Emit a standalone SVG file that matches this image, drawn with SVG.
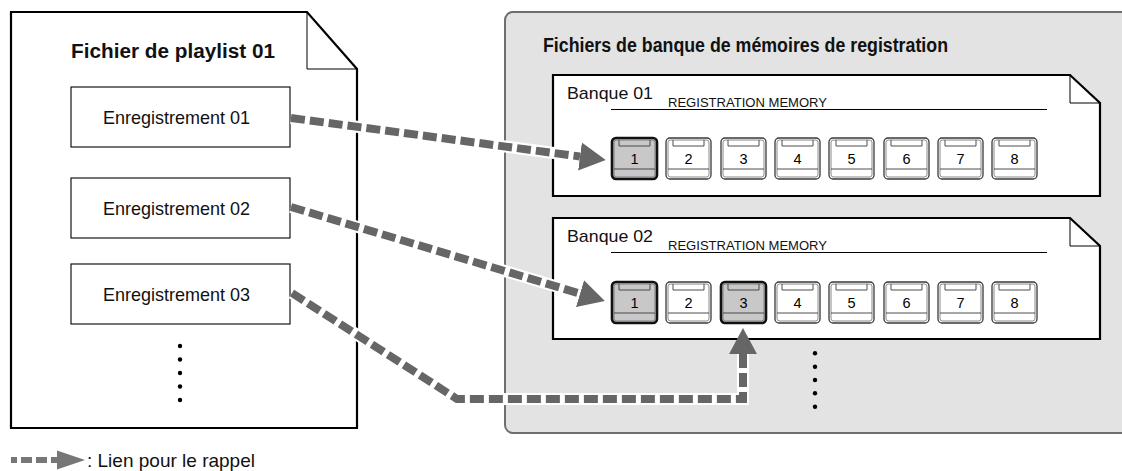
<svg xmlns="http://www.w3.org/2000/svg" width="1122" height="471" viewBox="0 0 1122 471">
<style>
text{font-family:"Liberation Sans",Arial,sans-serif;fill:#111}
.title{font-size:20px;font-weight:bold}
.rec{font-size:19px}
.bank{font-size:17px}
.reg{font-size:13.5px}
.num{font-size:14.5px;text-anchor:middle;fill:#000}
.leg{font-size:19px}
.doc{fill:#fff;stroke:#000;stroke-width:2.2;stroke-linejoin:miter}
.fold{fill:none;stroke:#000;stroke-width:1}
.box{fill:#fff;stroke:#000;stroke-width:1.1}
.bo{fill:#fff;stroke:#3a3a3a;stroke-width:1.3}
.bi{fill:none;stroke:#6a6a6a;stroke-width:0.8}
.bl{fill:none;stroke:#3a3a3a;stroke-width:0.9}
.sel .bo{fill:#c8c8c8;stroke:#111;stroke-width:2.6}
.dot{fill:#000}
.halo{fill:none;stroke:#fff;stroke-width:12;stroke-linejoin:miter}
.dash{fill:none;stroke:#666;stroke-width:8;stroke-dasharray:14 5;stroke-linejoin:miter}
</style>
<defs>
<marker id="ah" markerUnits="userSpaceOnUse" markerWidth="30" markerHeight="30" viewBox="0 -15 30 30" refX="0" refY="0" orient="auto">
<path d="M0,-14 L26,0 L0,14 Z" fill="#666"/>
</marker>
</defs>

<g id="panel">
<rect x="505" y="12" width="630" height="421" rx="8" fill="#e3e3e3" stroke="#6e6e6e" stroke-width="2"/>
<text class="title" x="543" y="52" textLength="405" lengthAdjust="spacingAndGlyphs">Fichiers de banque de mémoires de registration</text>
</g>

<g id="playlist">
<path class="doc" d="M11,12 H307 L357,69 V428 H11 Z"/>
<path class="fold" d="M307,12 V69 H357"/>
<text class="title" x="71" y="58" textLength="204" lengthAdjust="spacingAndGlyphs">Fichier de playlist 01</text>
<g class="dot">
<circle cx="180" cy="346" r="2.2"/><circle cx="180" cy="359.5" r="2.2"/><circle cx="180" cy="373" r="2.2"/><circle cx="180" cy="386.5" r="2.2"/><circle cx="180" cy="400" r="2.2"/>
</g>
</g>

<g id="rec01">
<rect class="box" x="71" y="87" width="219" height="60"/>
<text class="rec" x="103" y="123.5" textLength="147" lengthAdjust="spacingAndGlyphs">Enregistrement 01</text>
</g>
<g id="rec02">
<rect class="box" x="71" y="178" width="219" height="60"/>
<text class="rec" x="103" y="214.5" textLength="147" lengthAdjust="spacingAndGlyphs">Enregistrement 02</text>
</g>
<g id="rec03">
<rect class="box" x="71" y="264" width="219" height="60"/>
<text class="rec" x="103" y="300.5" textLength="147" lengthAdjust="spacingAndGlyphs">Enregistrement 03</text>
</g>

<g id="bank01">
<path class="doc" d="M553,75 H1070 L1100,103 V196 H553 Z"/>
<path class="fold" d="M1070,75 V103 H1100"/>
<text class="bank" x="567" y="99" textLength="86" lengthAdjust="spacingAndGlyphs">Banque 01</text>
<text class="reg" x="668" y="106.5" textLength="159" lengthAdjust="spacingAndGlyphs">REGISTRATION MEMORY</text>
<line x1="611" y1="109.5" x2="1047" y2="109.5" stroke="#000" stroke-width="1.2"/>
<g class="btn sel" transform="translate(612,138)"><rect class="bo" width="45" height="41" rx="4"/><rect class="bi" x="2" y="2" width="41" height="37" rx="2.5"/><path class="bl" d="M7,2 V8 H38 V2 M2,31 H43"/><text class="num" x="22.5" y="26">1</text></g>
<g class="btn" transform="translate(666,138)"><rect class="bo" width="45" height="41" rx="4"/><rect class="bi" x="2" y="2" width="41" height="37" rx="2.5"/><path class="bl" d="M7,2 V8 H38 V2 M2,31 H43"/><text class="num" x="22.5" y="26">2</text></g>
<g class="btn" transform="translate(721,138)"><rect class="bo" width="45" height="41" rx="4"/><rect class="bi" x="2" y="2" width="41" height="37" rx="2.5"/><path class="bl" d="M7,2 V8 H38 V2 M2,31 H43"/><text class="num" x="22.5" y="26">3</text></g>
<g class="btn" transform="translate(775,138)"><rect class="bo" width="45" height="41" rx="4"/><rect class="bi" x="2" y="2" width="41" height="37" rx="2.5"/><path class="bl" d="M7,2 V8 H38 V2 M2,31 H43"/><text class="num" x="22.5" y="26">4</text></g>
<g class="btn" transform="translate(829,138)"><rect class="bo" width="45" height="41" rx="4"/><rect class="bi" x="2" y="2" width="41" height="37" rx="2.5"/><path class="bl" d="M7,2 V8 H38 V2 M2,31 H43"/><text class="num" x="22.5" y="26">5</text></g>
<g class="btn" transform="translate(884,138)"><rect class="bo" width="45" height="41" rx="4"/><rect class="bi" x="2" y="2" width="41" height="37" rx="2.5"/><path class="bl" d="M7,2 V8 H38 V2 M2,31 H43"/><text class="num" x="22.5" y="26">6</text></g>
<g class="btn" transform="translate(938,138)"><rect class="bo" width="45" height="41" rx="4"/><rect class="bi" x="2" y="2" width="41" height="37" rx="2.5"/><path class="bl" d="M7,2 V8 H38 V2 M2,31 H43"/><text class="num" x="22.5" y="26">7</text></g>
<g class="btn" transform="translate(992,138)"><rect class="bo" width="45" height="41" rx="4"/><rect class="bi" x="2" y="2" width="41" height="37" rx="2.5"/><path class="bl" d="M7,2 V8 H38 V2 M2,31 H43"/><text class="num" x="22.5" y="26">8</text></g>
</g>

<g id="bank02">
<path class="doc" d="M553,218 H1070 L1100,246 V339 H553 Z"/>
<path class="fold" d="M1070,218 V246 H1100"/>
<text class="bank" x="567" y="242" textLength="86" lengthAdjust="spacingAndGlyphs">Banque 02</text>
<text class="reg" x="668" y="249.5" textLength="159" lengthAdjust="spacingAndGlyphs">REGISTRATION MEMORY</text>
<line x1="611" y1="252.5" x2="1047" y2="252.5" stroke="#000" stroke-width="1.2"/>
<g class="btn sel" transform="translate(612,282)"><rect class="bo" width="45" height="41" rx="4"/><rect class="bi" x="2" y="2" width="41" height="37" rx="2.5"/><path class="bl" d="M7,2 V8 H38 V2 M2,31 H43"/><text class="num" x="22.5" y="26">1</text></g>
<g class="btn" transform="translate(666,282)"><rect class="bo" width="45" height="41" rx="4"/><rect class="bi" x="2" y="2" width="41" height="37" rx="2.5"/><path class="bl" d="M7,2 V8 H38 V2 M2,31 H43"/><text class="num" x="22.5" y="26">2</text></g>
<g class="btn sel" transform="translate(721,282)"><rect class="bo" width="45" height="41" rx="4"/><rect class="bi" x="2" y="2" width="41" height="37" rx="2.5"/><path class="bl" d="M7,2 V8 H38 V2 M2,31 H43"/><text class="num" x="22.5" y="26">3</text></g>
<g class="btn" transform="translate(775,282)"><rect class="bo" width="45" height="41" rx="4"/><rect class="bi" x="2" y="2" width="41" height="37" rx="2.5"/><path class="bl" d="M7,2 V8 H38 V2 M2,31 H43"/><text class="num" x="22.5" y="26">4</text></g>
<g class="btn" transform="translate(829,282)"><rect class="bo" width="45" height="41" rx="4"/><rect class="bi" x="2" y="2" width="41" height="37" rx="2.5"/><path class="bl" d="M7,2 V8 H38 V2 M2,31 H43"/><text class="num" x="22.5" y="26">5</text></g>
<g class="btn" transform="translate(884,282)"><rect class="bo" width="45" height="41" rx="4"/><rect class="bi" x="2" y="2" width="41" height="37" rx="2.5"/><path class="bl" d="M7,2 V8 H38 V2 M2,31 H43"/><text class="num" x="22.5" y="26">6</text></g>
<g class="btn" transform="translate(938,282)"><rect class="bo" width="45" height="41" rx="4"/><rect class="bi" x="2" y="2" width="41" height="37" rx="2.5"/><path class="bl" d="M7,2 V8 H38 V2 M2,31 H43"/><text class="num" x="22.5" y="26">7</text></g>
<g class="btn" transform="translate(992,282)"><rect class="bo" width="45" height="41" rx="4"/><rect class="bi" x="2" y="2" width="41" height="37" rx="2.5"/><path class="bl" d="M7,2 V8 H38 V2 M2,31 H43"/><text class="num" x="22.5" y="26">8</text></g>
</g>

<g id="bankdots" class="dot">
<circle cx="815" cy="353.3" r="2.2"/><circle cx="815" cy="366.7" r="2.2"/><circle cx="815" cy="380" r="2.2"/><circle cx="815" cy="393.3" r="2.2"/><circle cx="815" cy="406.7" r="2.2"/>
</g>

<g id="connectors">
<path class="halo" d="M291,118 L580,156.5"/>
<path class="dash" d="M291,118 L580,156.5" marker-end="url(#ah)"/>
<path class="halo" d="M291,207 L580,293.6"/>
<path class="dash" d="M291,207 L580,293.6" marker-end="url(#ah)"/>
<path class="halo" d="M292,293 L457,399 H743 V354"/>
<path class="dash" d="M292,293 L457,399 H743 V354" marker-end="url(#ah)"/>
</g>

<g id="legend">
<g fill="#777">
<rect x="11" y="457" width="6" height="6"/>
<rect x="21" y="457" width="11" height="6"/>
<rect x="36" y="457" width="11" height="6"/>
<rect x="51" y="457" width="7" height="6"/>
<path d="M57,450.5 L85,460 L57,469.5 Z"/>
</g>
<text class="leg" x="87" y="467">: Lien pour le rappel</text>
</g>
</svg>
